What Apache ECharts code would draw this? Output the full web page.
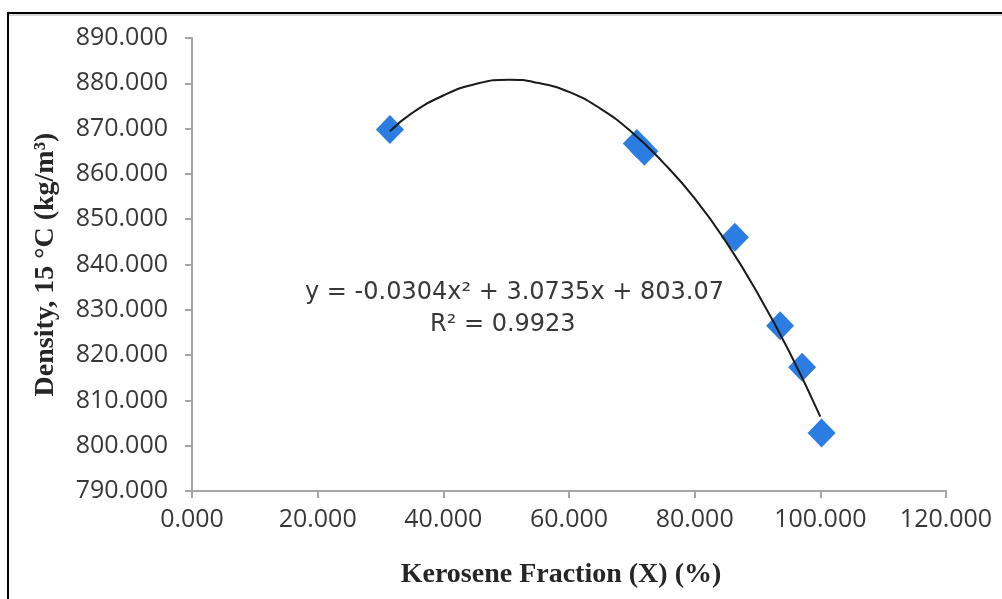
<!DOCTYPE html>
<html>
<head>
<meta charset="utf-8">
<script src="https://cdn.jsdelivr.net/npm/echarts@6/dist/echarts.min.js"></script>
<style>
  html, body { margin: 0; padding: 0; background: #fff; }
  #chart { width: 1002px; height: 599px; }
</style>
</head>
<body>
<div id="chart"></div>
<script>
// measured points (kerosene fraction %, density kg/m3)
var fractionX = [31.5, 70.8, 72.0, 86.4, 93.6, 97.1, 100.2];
var densityY = [869.8, 866.7, 865.0, 846.0, 826.5, 817.3, 802.8];

// trendline
var trendX = [31.5, 35, 40, 45, 50.5, 55, 60, 65, 70, 75, 80, 85, 90, 95, 100];
var trendY = [869.4, 873.4, 877.3, 879.8, 880.8, 880.1, 878.1, 874.4, 869.2, 862.5, 854.6, 845.0, 833.7, 820.9, 806.4];

var xTicks = [0, 20, 40, 60, 80, 100, 120];
var yTicks = [790, 800, 810, 820, 830, 840, 850, 860, 870, 880, 890];

var eqText = 'y = -0.0304x\u00B2 + 3.0735x + 803.07';
var r2Text = 'R\u00B2 = 0.9923';

var chart = echarts.init(document.getElementById('chart'));

var pts = fractionX.map(function (x, i) { return [x, densityY[i]]; });
var trend = trendX.map(function (x, i) { return [x, trendY[i]]; });

var labelFont = { color: '#383838', fontSize: 25, fontFamily: 'Open Sans' };
var nameFont = { fontFamily: 'Liberation Serif', fontWeight: 'bold', fontSize: 28, color: '#262626' };

var option = {
    animation: false,
    grid: { left: 192, top: 38, width: 754, height: 453 },
    xAxis: {
        type: 'value',
        min: xTicks[0], max: xTicks[xTicks.length - 1], interval: 20,
        axisLine: { lineStyle: { color: '#a6a6a6', width: 2 } },
        axisTick: { length: 7, lineStyle: { color: '#a6a6a6', width: 2 } },
        splitLine: { show: false },
        axisLabel: Object.assign({ margin: 16, formatter: function (v) { return v.toFixed(3); } }, labelFont),
        name: 'Kerosene Fraction (X) (%)',
        nameLocation: 'middle',
        nameGap: 70,
        nameTextStyle: Object.assign({ padding: [0, 16, 0, 0] }, nameFont)
    },
    yAxis: {
        type: 'value',
        min: yTicks[0], max: yTicks[yTicks.length - 1], interval: 10,
        axisLine: { show: true, lineStyle: { color: '#a6a6a6', width: 2 } },
        axisTick: { show: true, length: 7, lineStyle: { color: '#a6a6a6', width: 2 } },
        splitLine: { show: false },
        axisLabel: Object.assign({ margin: 24, formatter: function (v) { return v.toFixed(3); } }, labelFont),
        name: 'Density, 15 \u00B0C (kg/m\u00B3)',
        nameLocation: 'middle',
        nameGap: 132,
        nameTextStyle: nameFont
    },
    series: [
        {
            name: 'trend',
            type: 'line',
            data: trend,
            smooth: 0.5,
            symbol: 'none',
            lineStyle: { color: '#1a1a1a', width: 2 },
            z: 3
        },
        {
            name: 'density',
            type: 'scatter',
            data: pts,
            symbol: 'diamond',
            symbolSize: [28, 29],
            itemStyle: { color: '#2b7de1', opacity: 1 },
            z: 2
        }
    ],
    graphic: [
        {
            type: 'line', shape: { x1: 8, y1: 13, x2: 1002, y2: 13 },
            style: { stroke: '#000', lineWidth: 2 }
        },
        {
            type: 'line', shape: { x1: 8, y1: 15, x2: 1002, y2: 15 },
            style: { stroke: '#b0b0b0', lineWidth: 1 }
        },
        {
            type: 'line', shape: { x1: 8, y1: 12, x2: 8, y2: 599 },
            style: { stroke: '#000', lineWidth: 2 }
        },
        {
            type: 'text', left: 305, top: 281,
            style: { text: eqText, fill: '#383838', font: '24px "DejaVu Sans"' }
        },
        {
            type: 'text', left: 430, top: 313,
            style: { text: r2Text, fill: '#383838', font: '24px "DejaVu Sans"' }
        }
    ]
};

chart.setOption(option);
</script>
</body>
</html>
